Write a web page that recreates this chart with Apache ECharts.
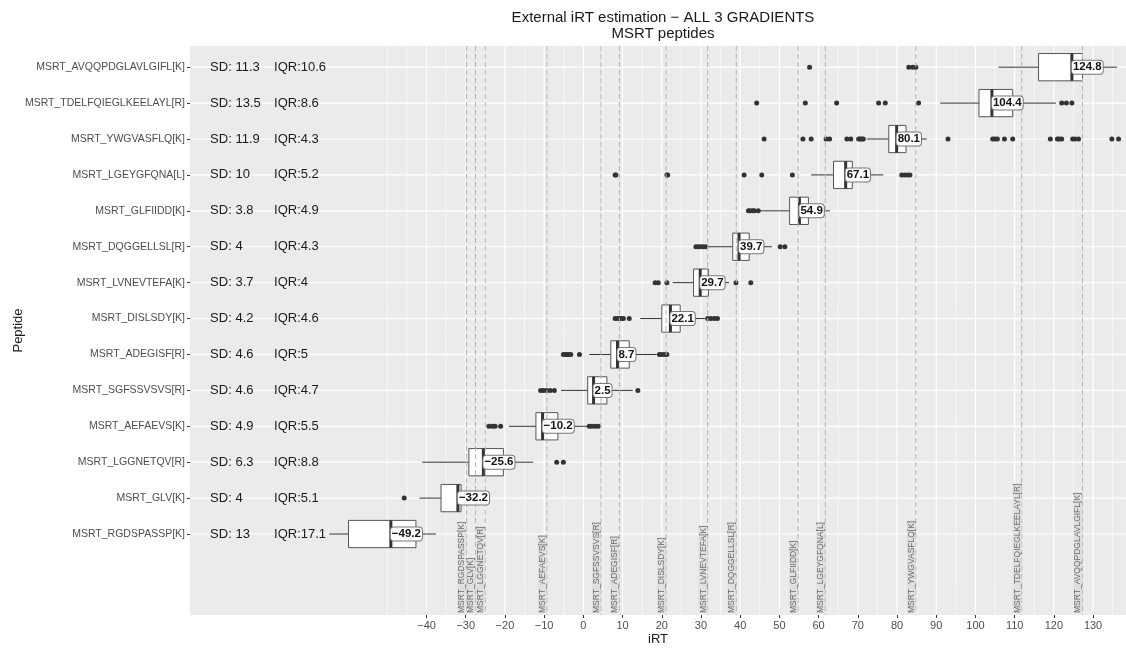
<!DOCTYPE html>
<html>
<head>
<meta charset="utf-8">
<script src="https://cdn.jsdelivr.net/npm/echarts@6/dist/echarts.min.js"></script>
<style>html,body{margin:0;padding:0;background:#fff}#main{width:1126px;height:648px}</style>
</head>
<body>
<div id="main"></div>
<script>
// ---- data (top row first) ----
const peptides = ["MSRT_AVQQPDGLAVLGIFL[K]","MSRT_TDELFQIEGLKEELAYL[R]","MSRT_YWGVASFLQ[K]","MSRT_LGEYGFQNA[L]","MSRT_GLFIIDD[K]","MSRT_DQGGELLSL[R]","MSRT_LVNEVTEFA[K]","MSRT_DISLSDY[K]","MSRT_ADEGISF[R]","MSRT_SGFSSVSVS[R]","MSRT_AEFAEVS[K]","MSRT_LGGNETQV[R]","MSRT_GLV[K]","MSRT_RGDSPASSP[K]"];
const sdValues = ["11.3","13.5","11.9","10","3.8","4","3.7","4.2","4.6","4.6","4.9","6.3","4","13"];
const iqrValues = ["10.6","8.6","4.3","5.2","4.9","4.3","4","4.6","5","4.7","5.5","8.8","5.1","17.1"];
const whiskerLow  = [105.9, 91.0, 72.3, 58.1, 45.0, 31.5, 22.8, 14.5, 1.5, -5.7, -19.0, -41.1, -41.8, -64.8];
const q1Values    = [116.1, 100.9, 77.9, 63.8, 52.6, 38.1, 28.1, 20.0, 7.0, 1.1, -12.1, -29.2, -36.3, -59.9];
const medianValues= [124.6, 104.2, 79.9, 66.9, 55.1, 39.7, 29.8, 22.2, 8.7, 2.6, -10.4, -25.5, -32.0, -49.1];
const q3Values    = [127.3, 109.5, 82.3, 68.6, 57.4, 42.3, 31.9, 24.7, 11.7, 6.0, -6.5, -20.4, -31.2, -42.7];
const whiskerHigh = [136.1, 120.5, 87.6, 76.5, 62.9, 48.1, 37.2, 31.0, 18.7, 12.6, 0.9, -12.8, -30.5, -37.6];
const medianLabels = ["124.8","104.4","80.1","67.1","54.9","39.7","29.7","22.1","8.7","2.5","−10.2","−25.6","−32.2","−49.2"];
const outliers = [
  [57.7, 83.0, 84.0, 84.8],
  [44.2, 56.6, 64.6, 75.3, 77.0, 85.5, 122.0, 123.2, 124.6],
  [46.1, 56.0, 58.1, 61.9, 62.8, 67.2, 68.2, 70.2, 70.6, 71.0, 71.4, 93.0, 104.4, 105.0, 105.6, 107.4, 109.5, 119.1, 120.9, 121.4, 122.0, 124.8, 125.4, 126.3, 134.8, 136.5],
  [8.1, 8.3, 21.3, 21.5, 41.0, 45.5, 53.3, 81.2, 81.9, 82.6, 83.3],
  [42.1, 42.6, 43.2, 43.6, 44.6],
  [28.7, 29.3, 29.9, 30.5, 31.2, 50.2, 51.4],
  [18.3, 19.1, 21.3, 38.9, 42.7],
  [8.1, 8.6, 9.2, 9.7, 10.2, 11.7, 31.7, 32.5, 33.4, 34.2],
  [-5.1, -4.6, -4.1, -3.7, -3.2, -1.0, 19.4, 20.0, 20.7, 21.3],
  [-10.9, -10.2, -9.4, -8.5, -7.4, 13.9],
  [-24.1, -23.2, -22.5, -21.1, 1.5, 2.2, 3.0, 3.8],
  [-6.8, -5.1],
  [-45.7],
  []
];
const refPeptides = ["MSRT_RGDSPASSP[K]","MSRT_GLV[K]","MSRT_LGGNETQV[R]","MSRT_AEFAEVS[K]","MSRT_SGFSSVSVS[R]","MSRT_ADEGISF[R]","MSRT_DISLSDY[K]","MSRT_LVNEVTEFA[K]","MSRT_DQGGELLSL[R]","MSRT_GLFIIDD[K]","MSRT_LGEYGFQNA[L]","MSRT_YWGVASFLQ[K]","MSRT_TDELFQIEGLKEELAYL[R]","MSRT_AVQQPDGLAVLGIFL[K]"];
const refValues = [-29.8, -27.5, -25.0, -9.3, 4.5, 9.2, 21.1, 31.7, 39.0, 54.8, 61.7, 84.8, 111.8, 127.3];
const xTickValues = [-40,-30,-20,-10,0,10,20,30,40,50,60,70,80,90,100,110,120,130];
const xMinorGrid = [-50,-45,-35,-25,-15,-5,5,15,25,35,45,55,65,75,85,95,105,115,125,135];

// ---- build ----
const N = peptides.length;
const rowOf = i => N - i;
const FONT = "'Liberation Sans', Arial, sans-serif";
const X_MIN = -100.33, X_MAX = 138.4, Y_MIN = -1.255, Y_MAX = 14.59;
const SD_X = -95.2, IQR_X = -78.9, LABEL_Y = -1.2;

const boxData = peptides.map((p, i) => [rowOf(i), whiskerLow[i], q1Values[i], medianValues[i], q3Values[i], whiskerHigh[i], i]);
const outlierData = [];
outliers.forEach((arr, i) => arr.forEach(v => outlierData.push([v, rowOf(i)])));
const statData = peptides.map((p, i) => [rowOf(i), i]);
const rowGrid = peptides.map((p, i) => rowOf(i));

function vLine(x, rect, w, color, dash) {
  return {type: 'line', shape: {x1: x, y1: rect.y, x2: x, y2: rect.y + rect.height},
    style: {stroke: color, lineWidth: w, lineDash: dash || null}};
}

const option = {
  animation: false,
  backgroundColor: '#fff',
  title: {
    text: 'External iRT estimation − ALL 3 GRADIENTS\nMSRT peptides',
    left: 658, top: 5, textAlign: 'center',
    textStyle: {fontFamily: FONT, fontSize: 15, fontWeight: 'normal', color: '#1a1a1a', lineHeight: 16}
  },
  grid: {left: 190, right: 0, top: 46, bottom: 33, show: true, backgroundColor: '#ebebeb', borderWidth: 0,
    containLabel: false, outerBoundsMode: 'none'},
  xAxis: {
    type: 'value', min: X_MIN, max: X_MAX,
    name: 'iRT', nameLocation: 'middle', nameGap: 18, nameMoveOverlap: false,
    nameTextStyle: {fontFamily: FONT, fontSize: 13, color: '#1a1a1a', verticalAlign: 'top'},
    axisLine: {show: false, onZero: false}, splitLine: {show: false},
    axisTick: {show: true, customValues: xTickValues, length: 3, lineStyle: {color: '#333', width: 1}},
    axisLabel: {customValues: xTickValues, fontFamily: FONT, fontSize: 11, color: '#4d4d4d', margin: 5,
      formatter: v => (v < 0 ? '−' + Math.abs(v) : String(v))}
  },
  yAxis: {
    type: 'value', min: Y_MIN, max: Y_MAX,
    name: 'Peptide', nameLocation: 'middle', nameGap: 165, nameRotate: 90, nameMoveOverlap: false,
    nameTextStyle: {fontFamily: FONT, fontSize: 13, color: '#1a1a1a'},
    axisLine: {show: false, onZero: false}, splitLine: {show: false},
    axisTick: {show: true, customValues: rowGrid, length: 3, lineStyle: {color: '#333', width: 1}},
    axisLabel: {customValues: rowGrid, fontFamily: FONT, fontSize: 10.5, color: '#4d4d4d', margin: 5,
      formatter: v => peptides[N - Math.round(v)] || ''}
  },
  series: [
    { // background grid lines (minor + major vertical, horizontal rows)
      type: 'custom', silent: true, z: 1, data: [[0, 0]],
      renderItem: (params, api) => {
        const r = params.coordSys;
        const kids = [];
        xMinorGrid.forEach(v => kids.push(vLine(api.coord([v, 0])[0], r, 0.6, '#ffffff')));
        xTickValues.forEach(v => kids.push(vLine(api.coord([v, 0])[0], r, 1.2, '#ffffff')));
        rowGrid.forEach(row => {
          const y = api.coord([0, row])[1];
          kids.push({type: 'line', shape: {x1: r.x, y1: y, x2: r.x + r.width, y2: y}, style: {stroke: '#fff', lineWidth: 1.2}});
        });
        return {type: 'group', children: kids};
      }
    },
    { // boxes
      type: 'custom', silent: true, z: 3, data: boxData,
      renderItem: (params, api) => {
        const row = api.value(0);
        const xs = [1,2,3,4,5].map(k => api.coord([api.value(k), row])[0]);
        const yc = api.coord([0, row])[1];
        const h = api.size([0, 1])[1] * 0.76;
        const ln = {stroke: '#333', lineWidth: 1};
        return {type: 'group', children: [
          {type: 'line', shape: {x1: xs[0], y1: yc, x2: xs[1], y2: yc}, style: ln},
          {type: 'line', shape: {x1: xs[3], y1: yc, x2: xs[4], y2: yc}, style: ln},
          {type: 'rect', shape: {x: xs[1], y: yc - h / 2, width: xs[3] - xs[1], height: h},
            style: {fill: '#fff', stroke: '#555', lineWidth: 1}},
          {type: 'line', shape: {x1: xs[2], y1: yc - h / 2, x2: xs[2], y2: yc + h / 2}, style: {stroke: '#333', lineWidth: 3}}
        ]};
      }
    },
    { // outliers
      type: 'scatter', z: 4, silent: true, data: outlierData, symbol: 'circle', symbolSize: 5,
      itemStyle: {color: '#333', opacity: 1}
    },
    { // reference dashed lines and labels
      type: 'custom', silent: true, z: 5, data: refValues.map((v, i) => [v, i]),
      renderItem: (params, api) => {
        const x = api.coord([api.value(0), 0])[0];
        const yb = api.coord([0, LABEL_Y])[1];
        return {type: 'group', children: [
          vLine(x, params.coordSys, 1, '#b5b5b5', [5, 3]),
          {type: 'text', x: x, y: yb, rotation: Math.PI / 2,
            style: {text: refPeptides[api.value(1)], fontFamily: FONT, fontSize: 8.5, fill: '#6b6b6b',
              align: 'left', verticalAlign: 'bottom', backgroundColor: 'rgba(215,215,215,0.6)'}}
        ]};
      }
    },
    { // SD / IQR texts
      type: 'custom', silent: true, z: 6, data: statData,
      renderItem: (params, api) => {
        const row = api.value(0), i = api.value(1);
        const p1 = api.coord([SD_X, row]), p2 = api.coord([IQR_X, row]);
        const st = {fontFamily: FONT, fontSize: 13, fill: '#1a1a1a', align: 'left', verticalAlign: 'middle'};
        return {type: 'group', children: [
          {type: 'text', x: p1[0], y: p1[1], style: Object.assign({text: 'SD: ' + sdValues[i]}, st)},
          {type: 'text', x: p2[0], y: p2[1], style: Object.assign({text: 'IQR:' + iqrValues[i]}, st)}
        ]};
      }
    },
    { // median labels
      type: 'custom', silent: true, z: 7, data: boxData,
      renderItem: (params, api) => {
        const p = api.coord([api.value(3), api.value(0)]);
        return {type: 'text', x: p[0], y: p[1],
          style: {text: medianLabels[api.value(6)], fontFamily: FONT, fontSize: 11.5, fontWeight: 'bold', fill: '#111',
            align: 'left', verticalAlign: 'middle', backgroundColor: '#fff', borderColor: '#777', borderWidth: 1,
            borderRadius: 3, padding: [1, 1, 0, 1]}};
      }
    }
  ]
};
const chart = echarts.init(document.getElementById('main'), null, {renderer: 'canvas'});
chart.setOption(option);
</script>
</body>
</html>
